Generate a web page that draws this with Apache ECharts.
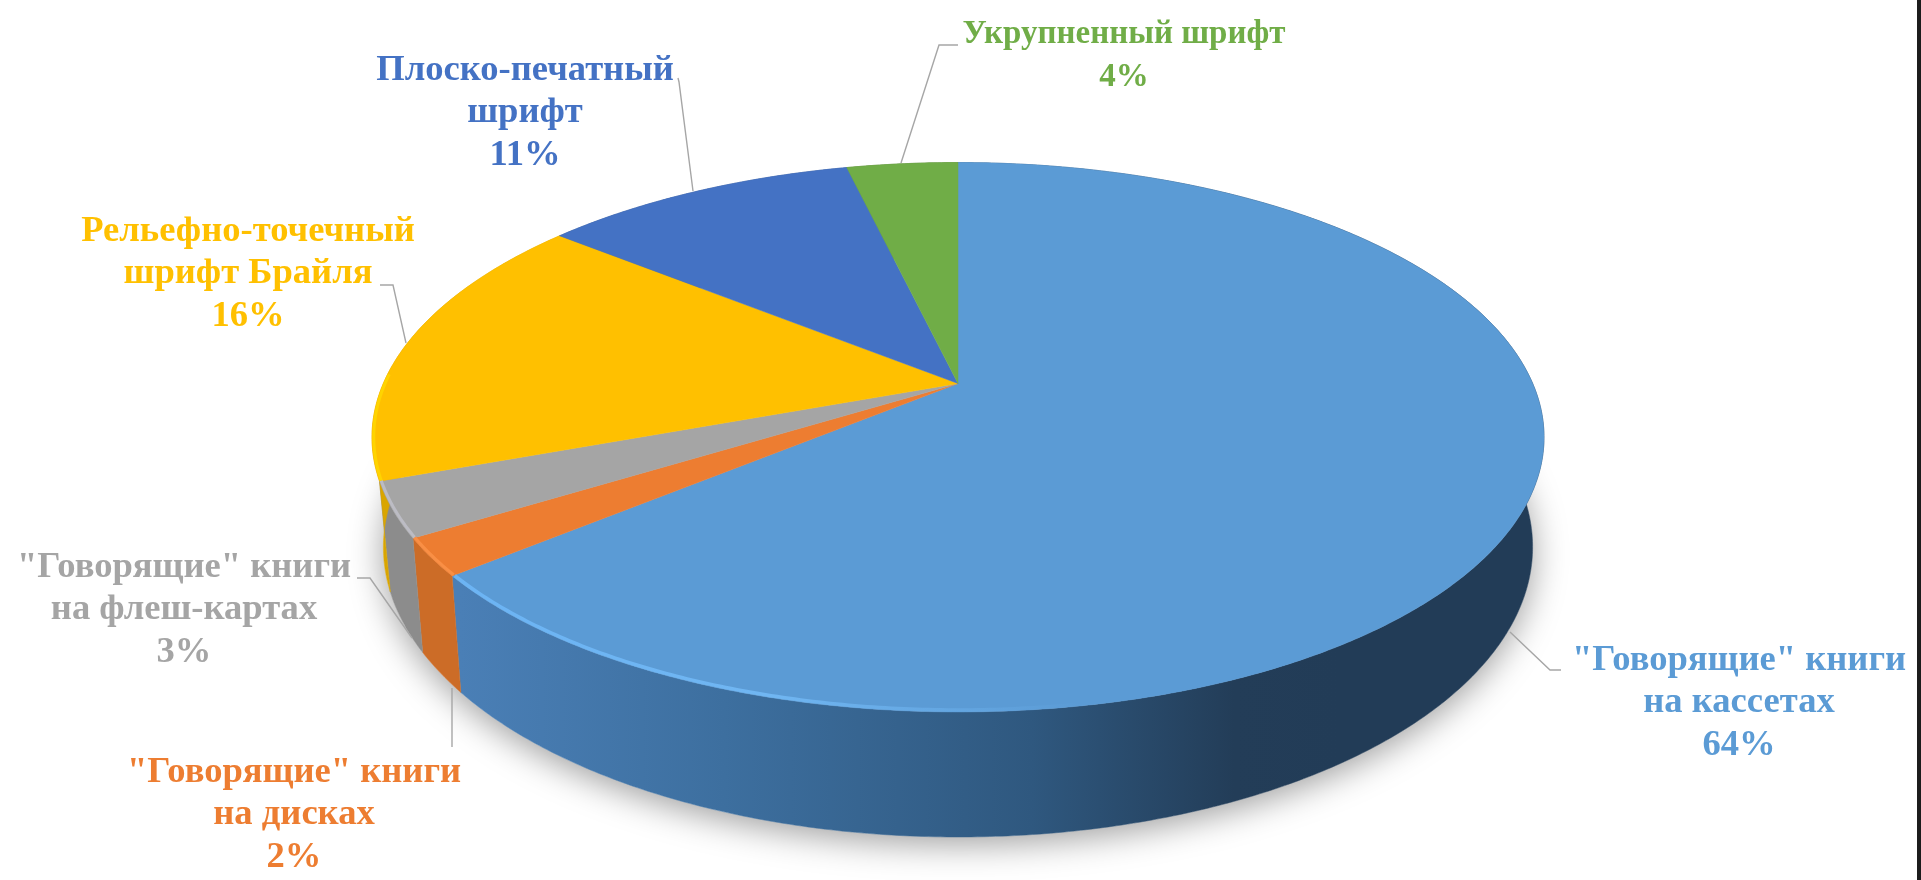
<!DOCTYPE html>
<html><head><meta charset="utf-8">
<style>html,body{margin:0;padding:0;background:#fff}#c{width:1921px;height:880px}</style>
<script src="https://cdn.jsdelivr.net/npm/echarts@6/dist/echarts.min.js"></script>
</head><body><div id="c"></div>
<script>
const categories = ['"Говорящие" книги\nна кассетах','"Говорящие" книги\nна дисках','"Говорящие" книги\nна флеш-картах','Рельефно-точечный\nшрифт Брайля','Плоско-печатный\nшрифт','Укрупненный шрифт'];
const shares = [64, 2.2, 3.2, 16.4, 10.5, 3.7];
const topColors = ['#5b9bd5','#ed7d31','#a5a5a5','#ffc000','#4472c4','#70ad47'];
const sideColors = [null,'#cc6c27','#8c8c8c','#d9a500','#34558f','#527e34'];
const rimColors = [null,'#f98f45','#bcbcc4','#ffd400','#4472c4','#70ad47'];
const labelAnchors = [[1739,703],[294,815],[184,610],[248,274],[525,113],[1124,56]];
const labelSizes = [36.6,36.6,36.6,36.6,36.6,33];
const leaders = [
  [[1561,670],[1550,670],[1510,632]],
  [[452,688],[452,747]],
  [[357,578],[370,578],[412,638]],
  [[380,285],[393,285],[406,343]],
  [[678,78],[679,82],[693,191]],
  [[958,45],[939,45],[901,163]]
];
const FONT = '"Liberation Serif"';
const LINE_H = 42.5;

// projected discs: apex, radii and perspective factor
const topDisc = {x:958, y:383.5, R:574.7, S:264.2, k:0.1956};
const bevelDisc = {x:958, y:383.5, R:574.7*0.997, S:264.2*0.994, k:0.1956};
const botDisc = {x:958, y:489, R:563, S:278.4, k:0.2};
function proj(d, deg){
  const t = deg*Math.PI/180, w = 1 + d.k*Math.cos(t);
  return [d.x + d.R*Math.sin(t)/w, d.y - d.S*Math.cos(t)/w];
}
function rim(d, a, b){
  const n = Math.max(2, Math.ceil(Math.abs(b-a)/0.5)), out = [];
  for(let i=0;i<=n;i++) out.push(proj(d, a+(b-a)*i/n));
  return out;
}
const total = shares.reduce((s,v)=>s+v,0);
let run = 0;
const seriesData = shares.map(v=>{const r=[v,run]; run+=v; return r;});

const blueSide = {type:'linear',global:true,x:460,y:0,x2:1340,y2:0,colorStops:[
  {offset:0,color:'#4a7fb6'},{offset:0.3,color:'#3d6f9f'},{offset:0.65,color:'#2f587f'},{offset:0.88,color:'#233d58'},{offset:1,color:'#223c57'}]};
const blueRim = {type:'linear',global:true,x:460,y:0,x2:1080,y2:0,colorStops:[
  {offset:0,color:'#6cb4f4'},{offset:0.5,color:'#70b6f2'},{offset:1,color:'#5b9bd5'}]};

function renderItem(params, api){
  const i = params.dataIndex;
  const a = api.value(1)/total*360, b = (api.value(1)+api.value(0))/total*360;
  const kids = [];
  if(i===0){
    kids.push({type:'polygon',z2:0,shape:{points:rim(botDisc,0,360)},
      style:{fill:'#fff',shadowColor:'rgba(0,0,0,0.38)',shadowBlur:34,shadowOffsetX:0,shadowOffsetY:7}});
  }
  const topArc = rim(topDisc,a,b), botArc = rim(botDisc,a,b);
  kids.push({type:'polygon',z2:1,shape:{points:topArc.concat(botArc.slice().reverse())},
    style:{fill:i===0?blueSide:sideColors[i],stroke:i===0?blueSide:sideColors[i],lineWidth:0.5}});
  kids.push({type:'polygon',z2:2,shape:{points:[[topDisc.x,topDisc.y]].concat(topArc)},
    style:{fill:topColors[i],stroke:topColors[i],lineWidth:0.5}});
  // light bevel along the rim of the slices that face the viewer
  if(i===0){
    kids.push({type:'polyline',z2:3,shape:{points:rim(bevelDisc,b-0.2,150)},
      style:{fill:'none',stroke:blueRim,lineWidth:3.5}});
  } else if(i<4){
    const end = i===3 ? Math.min(b,272) : b;
    kids.push({type:'polyline',z2:3,shape:{points:rim(bevelDisc,a,end)},
      style:{fill:'none',stroke:rimColors[i],lineWidth:3}});
  }
  kids.push({type:'polyline',z2:4,shape:{points:leaders[i]},
    style:{fill:'none',stroke:'#a6a6a6',lineWidth:1.4}});
  kids.push({type:'text',z2:5,x:labelAnchors[i][0],y:labelAnchors[i][1],
    style:{text:categories[i]+'\n'+Math.round(api.value(0))+'%',fill:topColors[i],
      font:'bold '+labelSizes[i]+'px '+FONT,lineHeight:LINE_H,align:'center',verticalAlign:'middle'}});
  return {type:'group',children:kids};
}

const chart = echarts.init(document.getElementById('c'),null,{renderer:'canvas'});
chart.setOption({
  animation:false,
  backgroundColor:'#ffffff',
  tooltip:{show:false},
  graphic:[{type:'rect',silent:true,z:100,shape:{x:1917,y:0,width:4,height:880},style:{fill:'#1c1c1c'}}],
  series:[{type:'custom',coordinateSystem:'none',silent:true,clip:false,
    data:seriesData,renderItem:renderItem}]
});
</script></body></html>
